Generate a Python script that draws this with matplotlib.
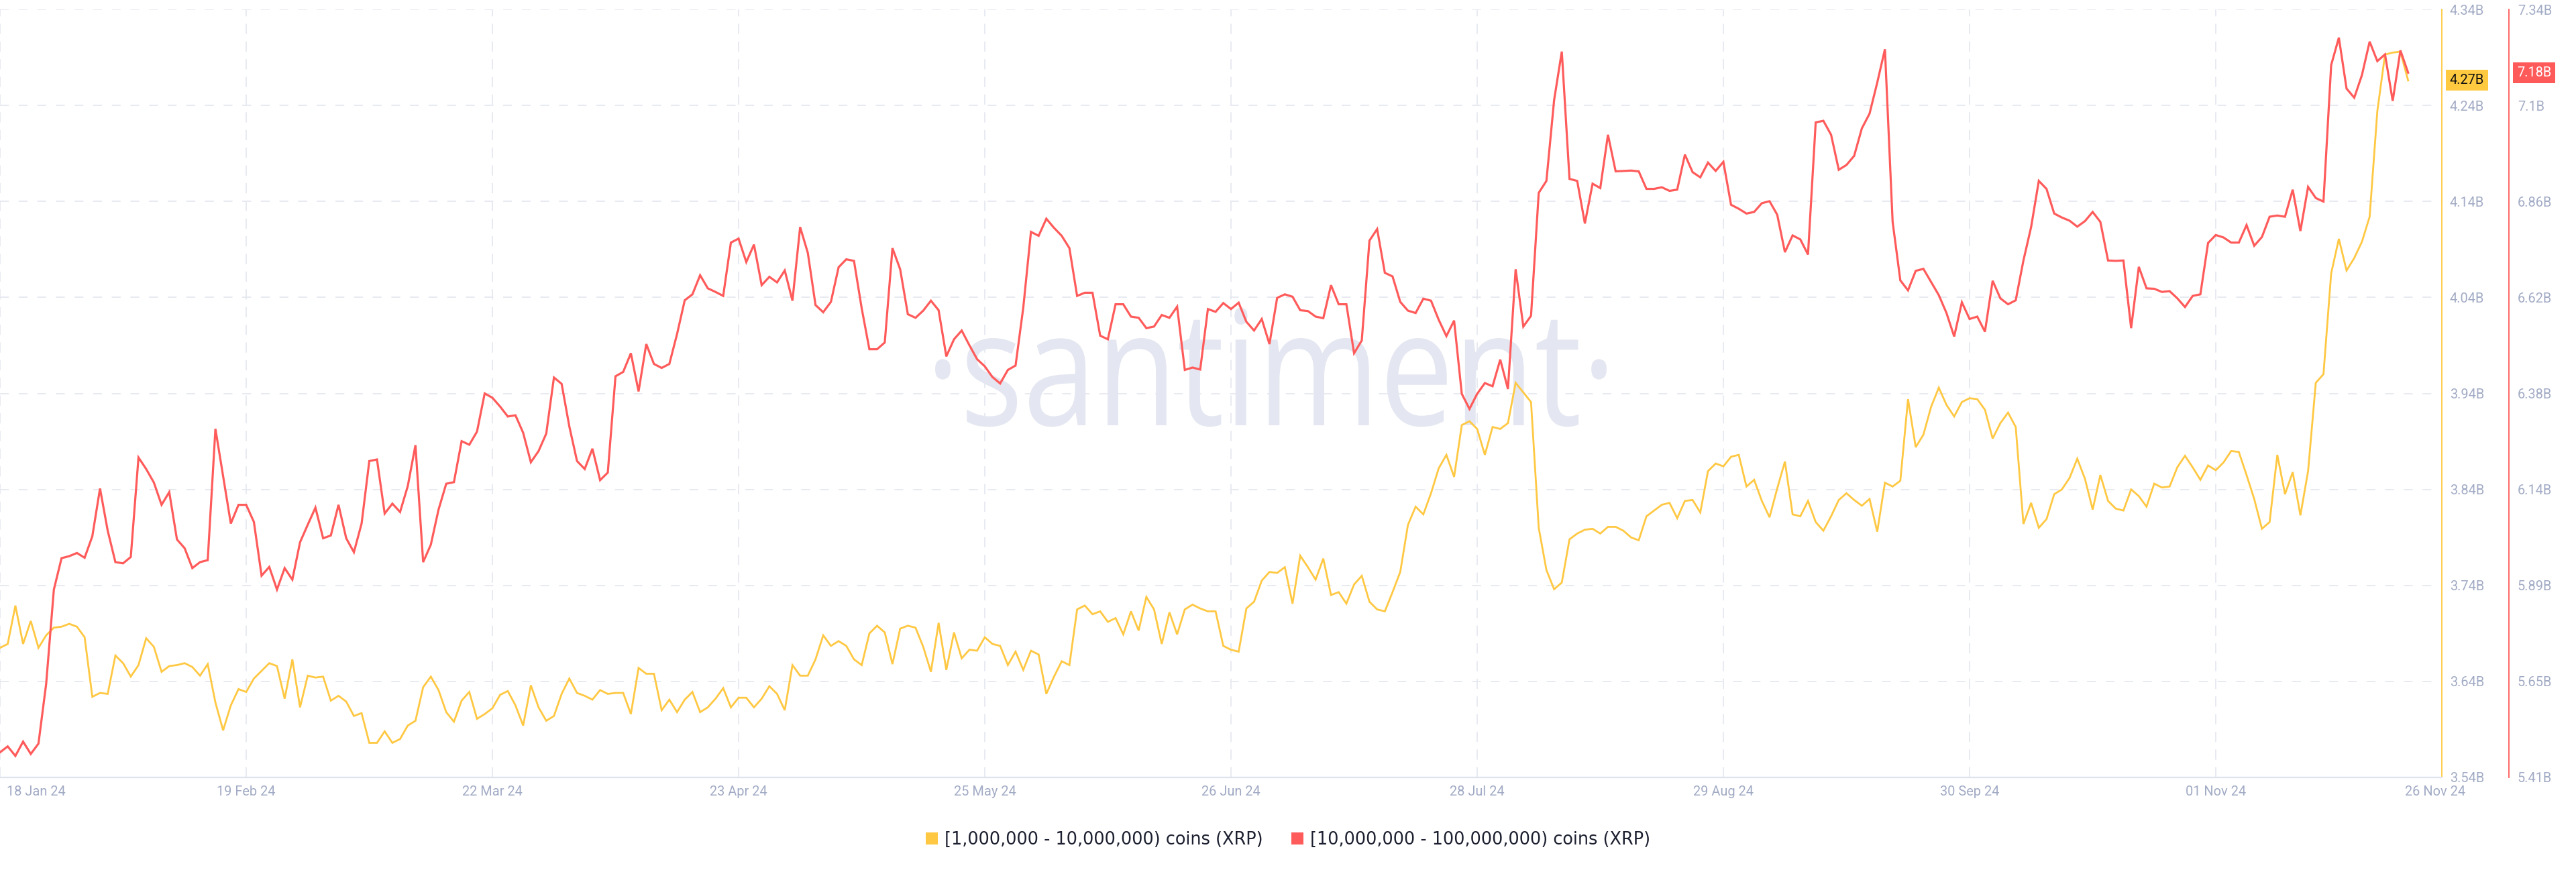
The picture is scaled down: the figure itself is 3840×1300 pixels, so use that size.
import numpy as np
import pandas as pd
import matplotlib
matplotlib.use('Agg')
import matplotlib.pyplot as plt
import matplotlib.dates as mdates
import matplotlib.transforms as mtransforms
from matplotlib.patches import Patch, PathPatch
from matplotlib.textpath import TextPath
from matplotlib.font_manager import FontProperties

plt.rcParams['font.family'] = ['Roboto', 'DejaVu Sans']
plt.rcParams['lines.scale_dashes'] = False

# ---------------- data ----------------
start_date = '2024-01-18'
yellow_label = '[1,000,000 - 10,000,000) coins (XRP)'
red_label = '[10,000,000 - 100,000,000) coins (XRP)'

yellow_values = [
    3.675, 3.679, 3.719, 3.679, 3.703, 3.675, 3.688, 3.696, 3.697, 3.700,
    3.697, 3.686, 3.624, 3.628, 3.627, 3.667, 3.659, 3.645, 3.657, 3.685,
    3.676, 3.650, 3.656, 3.657, 3.659, 3.655, 3.646, 3.658, 3.618, 3.589,
    3.615, 3.632, 3.629, 3.643, 3.651, 3.659, 3.656, 3.622, 3.663, 3.613,
    3.646, 3.644, 3.645, 3.620, 3.625, 3.619, 3.604, 3.607, 3.576, 3.576,
    3.588, 3.576, 3.580, 3.594, 3.599, 3.634, 3.645, 3.631, 3.608, 3.598,
    3.620, 3.629, 3.601, 3.606, 3.612, 3.626, 3.630, 3.615, 3.594, 3.636,
    3.613, 3.599, 3.604, 3.627, 3.643, 3.628, 3.625, 3.621, 3.631, 3.627,
    3.628, 3.628, 3.606, 3.654, 3.648, 3.648, 3.610, 3.621, 3.608, 3.621,
    3.629, 3.608, 3.613, 3.622, 3.633, 3.613, 3.623, 3.623, 3.613, 3.622,
    3.635, 3.627, 3.610, 3.657, 3.646, 3.646, 3.663, 3.688, 3.677, 3.682,
    3.677, 3.663, 3.657, 3.690, 3.698, 3.691, 3.658, 3.695, 3.698, 3.696,
    3.676, 3.650, 3.701, 3.652, 3.691, 3.664, 3.673, 3.672, 3.686, 3.679,
    3.677, 3.657, 3.671, 3.652, 3.672, 3.668, 3.627, 3.645, 3.661, 3.657,
    3.715, 3.719, 3.710, 3.713, 3.702, 3.706, 3.689, 3.713, 3.693, 3.728,
    3.715, 3.679, 3.712, 3.689, 3.715, 3.720, 3.716, 3.713, 3.713, 3.677,
    3.673, 3.671, 3.716, 3.723, 3.745, 3.754, 3.753, 3.759, 3.721, 3.771,
    3.759, 3.746, 3.768, 3.730, 3.733, 3.721, 3.741, 3.750, 3.723, 3.715,
    3.713, 3.733, 3.754, 3.803, 3.822, 3.814, 3.836, 3.862, 3.876, 3.853,
    3.907, 3.911, 3.903, 3.876, 3.905, 3.903, 3.909, 3.951, 3.941, 3.931,
    3.800, 3.756, 3.736, 3.743, 3.788, 3.794, 3.798, 3.799, 3.794, 3.801,
    3.801, 3.797, 3.790, 3.787, 3.812, 3.818, 3.824, 3.826, 3.810, 3.828,
    3.829, 3.816, 3.859, 3.867, 3.864, 3.874, 3.876, 3.843, 3.850, 3.828,
    3.811, 3.841, 3.869, 3.814, 3.812, 3.828, 3.806, 3.797, 3.812, 3.829,
    3.836, 3.829, 3.823, 3.830, 3.796, 3.847, 3.843, 3.849, 3.934, 3.884,
    3.897, 3.926, 3.946, 3.928, 3.916, 3.931, 3.935, 3.934, 3.923, 3.893,
    3.909, 3.920, 3.905, 3.804, 3.826, 3.800, 3.809, 3.835, 3.840, 3.852,
    3.872, 3.851, 3.819, 3.855, 3.828, 3.820, 3.818, 3.840, 3.833, 3.822,
    3.846, 3.842, 3.843, 3.863, 3.875, 3.863, 3.850, 3.865, 3.860, 3.868,
    3.880, 3.879, 3.855, 3.830, 3.799, 3.806, 3.876, 3.835, 3.858, 3.813,
    3.859, 3.951, 3.960, 4.065, 4.101, 4.068, 4.081, 4.098, 4.124, 4.234,
    4.293, 4.295, 4.296, 4.266,
]

red_values = [
    5.473, 5.488, 5.464, 5.500, 5.469, 5.495, 5.645, 5.882, 5.961, 5.966,
    5.974, 5.962, 6.016, 6.136, 6.030, 5.951, 5.948, 5.964, 6.214, 6.185,
    6.151, 6.095, 6.127, 6.008, 5.986, 5.936, 5.951, 5.956, 6.286, 6.167,
    6.048, 6.095, 6.095, 6.052, 5.917, 5.939, 5.882, 5.936, 5.907, 6.001,
    6.045, 6.088, 6.011, 6.018, 6.095, 6.011, 5.976, 6.048, 6.205, 6.209,
    6.073, 6.098, 6.077, 6.142, 6.245, 5.951, 5.995, 6.083, 6.148, 6.152,
    6.255, 6.246, 6.279, 6.375, 6.364, 6.342, 6.317, 6.320, 6.276, 6.202,
    6.230, 6.274, 6.415, 6.399, 6.292, 6.205, 6.185, 6.236, 6.157, 6.176,
    6.418, 6.429, 6.476, 6.380, 6.499, 6.449, 6.439, 6.449, 6.524, 6.609,
    6.624, 6.672, 6.639, 6.630, 6.620, 6.754, 6.764, 6.705, 6.749, 6.647,
    6.668, 6.654, 6.684, 6.608, 6.793, 6.728, 6.597, 6.579, 6.605, 6.692,
    6.712, 6.708, 6.589, 6.486, 6.486, 6.503, 6.740, 6.687, 6.574, 6.565,
    6.583, 6.608, 6.584, 6.468, 6.511, 6.533, 6.496, 6.461, 6.443, 6.416,
    6.400, 6.434, 6.445, 6.590, 6.781, 6.771, 6.814, 6.791, 6.771, 6.740,
    6.620, 6.628, 6.628, 6.520, 6.511, 6.599, 6.599, 6.568, 6.565, 6.539,
    6.543, 6.572, 6.565, 6.593, 6.434, 6.440, 6.435, 6.587, 6.580, 6.602,
    6.587, 6.603, 6.555, 6.533, 6.562, 6.499, 6.615, 6.624, 6.618, 6.584,
    6.582, 6.568, 6.564, 6.647, 6.599, 6.599, 6.476, 6.508, 6.759, 6.788,
    6.678, 6.669, 6.605, 6.583, 6.577, 6.613, 6.608, 6.560, 6.519, 6.558,
    6.374, 6.336, 6.374, 6.401, 6.393, 6.460, 6.386, 6.687, 6.543, 6.570,
    6.879, 6.909, 7.112, 7.234, 6.914, 6.909, 6.802, 6.902, 6.891, 7.025,
    6.933, 6.934, 6.935, 6.933, 6.889, 6.889, 6.893, 6.884, 6.887, 6.975,
    6.931, 6.918, 6.955, 6.934, 6.957, 6.849, 6.839, 6.827, 6.831, 6.853,
    6.858, 6.824, 6.730, 6.772, 6.762, 6.724, 7.056, 7.060, 7.025, 6.937,
    6.949, 6.972, 7.041, 7.078, 7.156, 7.240, 6.806, 6.659, 6.634, 6.683,
    6.688, 6.655, 6.622, 6.577, 6.518, 6.604, 6.562, 6.568, 6.530, 6.658,
    6.614, 6.599, 6.609, 6.709, 6.793, 6.909, 6.889, 6.827, 6.817, 6.809,
    6.794, 6.808, 6.831, 6.806, 6.709, 6.708, 6.709, 6.539, 6.693, 6.639,
    6.638, 6.630, 6.632, 6.614, 6.592, 6.620, 6.624, 6.753, 6.773, 6.767,
    6.754, 6.754, 6.798, 6.746, 6.768, 6.819, 6.822, 6.819, 6.887, 6.783,
    6.894, 6.866, 6.857, 7.200, 7.269, 7.141, 7.118, 7.175, 7.259, 7.210,
    7.227, 7.110, 7.237, 7.181,
]

yellow_ticks = [3.54, 3.64, 3.74, 3.84, 3.94, 4.04, 4.14, 4.24, 4.34]
yellow_ticklabels = ['3.54B', '3.64B', '3.74B', '3.84B', '3.94B', '4.04B', '4.14B', '4.24B', '4.34B']
red_ticks = [5.41, 5.65125, 5.8925, 6.13375, 6.375, 6.61625, 6.8575, 7.09875, 7.34]
red_ticklabels = ['5.41B', '5.65B', '5.89B', '6.14B', '6.38B', '6.62B', '6.86B', '7.1B', '7.34B']

grid_dates = ['2024-01-18', '2024-02-19', '2024-03-22', '2024-04-23', '2024-05-25',
              '2024-06-26', '2024-07-28', '2024-08-29', '2024-09-30', '2024-11-01']
xtick_dates = grid_dates + ['2024-11-26']
xtick_labels = ['18 Jan 24', '19 Feb 24', '22 Mar 24', '23 Apr 24', '25 May 24',
                '26 Jun 24', '28 Jul 24', '29 Aug 24', '30 Sep 24', '01 Nov 24', '26 Nov 24']

# ---------------- style ----------------
W, H = 3840, 1300
DPI = 100
YELLOW = '#ffc843'
RED = '#ff5b5b'
GRID = '#e6e8f1'
TICK = '#a2abc5'
AXLINE = '#dfe3ee'

fig = plt.figure(figsize=(W / DPI, H / DPI), dpi=DPI, facecolor='white')
left_px, right_px, top_px, bottom_px = 0, 3640, 14, 1159
ax = fig.add_axes([left_px / W, 1 - bottom_px / H, (right_px - left_px) / W, (bottom_px - top_px) / H])
ax.patch.set_visible(False)

dates = pd.date_range(start_date, periods=len(yellow_values), freq='D')
x_start = mdates.date2num(dates[0])
px_per_day = 367.0 / 32.0
ax.set_xlim(x_start, x_start + (right_px - left_px) / px_per_day)

# watermark
fp = FontProperties(family='Open Sans')
tp = TextPath((0, 0), '\u00b7santiment\u00b7', size=100, prop=fp)
tn = TextPath((0, 0), 'n', size=100, prop=fp)
ext = tp.get_extents()
next_ = tn.get_extents()
sx = (2395 - 1394) / ext.width
sy = 130 / next_.height
wm_tr = mtransforms.Affine2D().translate(-ext.x0, 0).scale(sx, sy).translate(1394, H - 634)
wm = PathPatch(tp, transform=wm_tr, facecolor='#e4e7f1', edgecolor='none', zorder=0.6)
wm.set_clip_on(False)
ax.add_artist(wm)

# gridlines
for v in yellow_ticks[1:]:
    ax.axhline(v, color=GRID, lw=1.3, linestyle=(0, (9.5, 10.5)), zorder=0.5)
for d in grid_dates:
    ax.axvline(mdates.date2num(pd.Timestamp(d)), color=GRID, lw=1.3,
               linestyle=(0, (11, 8)), zorder=0.5)

# series
ax.plot(dates, yellow_values, color=YELLOW, lw=2.0, zorder=3, solid_joinstyle='miter')
ax.set_ylim(3.54, 4.34)

ax2 = ax.twinx()
ax2.plot(dates, red_values, color=RED, lw=2.3, zorder=3, solid_joinstyle='miter')
ax2.set_ylim(5.41, 7.34)
ax2.set_xlim(ax.get_xlim())

# spines
for s in ['top', 'left']:
    ax.spines[s].set_visible(False)
ax.spines['bottom'].set_color(AXLINE)
ax.spines['bottom'].set_linewidth(1.6)
ax.spines['right'].set_color('#ffc940')
ax.spines['right'].set_linewidth(1.3)
for s in ['top', 'left', 'bottom']:
    ax2.spines[s].set_visible(False)
ax2.spines['right'].set_position(('axes', (3740 - left_px) / (right_px - left_px)))
ax2.spines['right'].set_color('#ff5a5a')
ax2.spines['right'].set_linewidth(1.3)

# y ticks
ax.yaxis.set_ticks_position('right')
ax.set_yticks(yellow_ticks)
ax.set_yticklabels(yellow_ticklabels)
ax.tick_params(axis='y', length=0, pad=8.6, labelsize=14.4, labelcolor=TICK,
               right=True, left=False, labelright=True, labelleft=False)
ax2.set_yticks(red_ticks)
ax2.set_yticklabels(red_ticklabels)
ax2.tick_params(axis='y', length=0, pad=9.2, labelsize=14.4, labelcolor=TICK)

# x tick labels (drawn as text)
ax.set_xticks([])
ax2.set_xticks([])
xtr = mtransforms.blended_transform_factory(ax.transData, ax.transAxes)
offsets = {0: 53.5, len(xtick_labels) - 1: 40.0}
for i, (d, lab) in enumerate(zip(xtick_dates, xtick_labels)):
    dx = offsets.get(i, 0.0)
    tr = xtr + mtransforms.ScaledTranslation(dx / DPI, -27.5 / DPI, fig.dpi_scale_trans)
    ax.text(mdates.date2num(pd.Timestamp(d)), 0, lab, transform=tr, ha='center',
            va='baseline', fontsize=14.4, color=TICK, clip_on=False)

# last value boxes
ytr = mtransforms.blended_transform_factory(ax.transAxes, ax.transData)
ax.text(1, yellow_values[-1], f'{yellow_values[-1]:.2f}B',
        transform=ytr + mtransforms.ScaledTranslation(12 / DPI, 0, fig.dpi_scale_trans),
        ha='left', va='center', fontsize=14.4, color='#111111', clip_on=False, zorder=10,
        bbox=dict(boxstyle='square,pad=0.3', fc='#ffc940', ec='none'))
rtr = mtransforms.blended_transform_factory(ax2.transAxes, ax2.transData)
ax2.text((3740 - left_px) / (right_px - left_px), red_values[-1], f'{red_values[-1]:.2f}B',
         transform=rtr + mtransforms.ScaledTranslation(12 / DPI, 0, fig.dpi_scale_trans),
         ha='left', va='center', fontsize=14.4, color='white', clip_on=False, zorder=10,
         bbox=dict(boxstyle='square,pad=0.3', fc='#ff5a5a', ec='none'))

# legend
handles = [Patch(facecolor=YELLOW, edgecolor='none'), Patch(facecolor=RED, edgecolor='none')]
leg = fig.legend(handles, [yellow_label, red_label], loc='center',
                 bbox_to_anchor=(0.5, 1 - 1252 / H), ncol=2, frameon=False,
                 prop=FontProperties(family='DejaVu Sans', size=18.4),
                 handlelength=0.70, handleheight=0.70, handletextpad=0.39,
                 columnspacing=1.64, labelcolor='#1d2030')

fig.savefig('out.png', dpi=DPI, facecolor='white')
